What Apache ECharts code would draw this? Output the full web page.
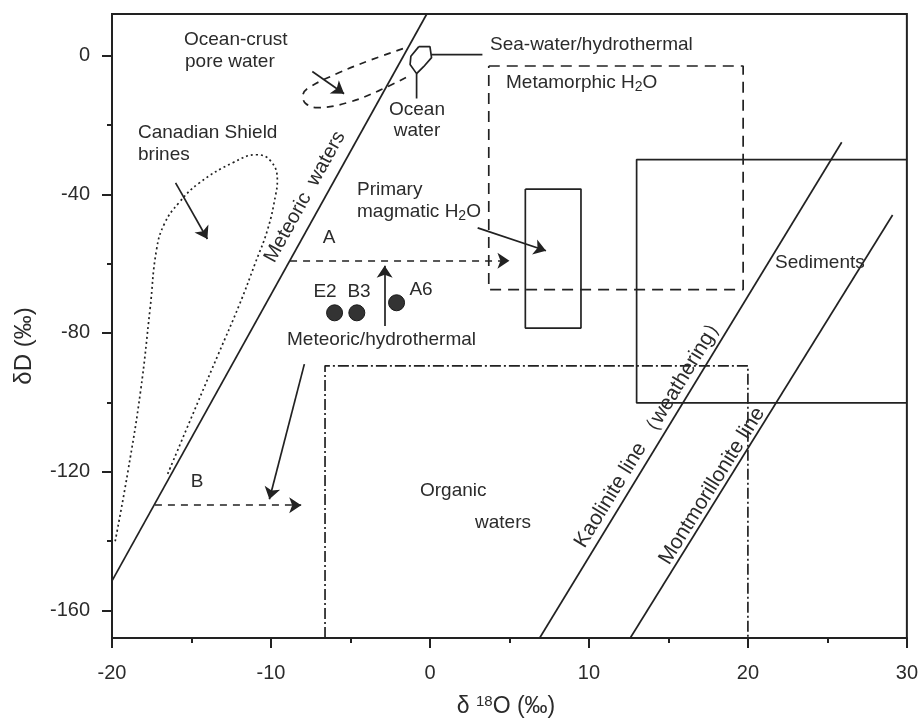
<!DOCTYPE html>
<html><head><meta charset="utf-8">
<script src="https://cdn.jsdelivr.net/npm/echarts@6/dist/echarts.min.js"></script>
<style>html,body{margin:0;padding:0;background:#fff}#c{width:921px;height:720px}</style>
</head><body><div id="c"></div>
<script>
// ---- data (δ18O, δD) ----
const yMajorTicks = [-160, -120, -80, -40, 0];
const yMinorTicks = [-140, -100, -60, -20];
const sampleNames = ['E2', 'B3', 'A6'];
const sampleD18O = [-6.0, -4.6, -2.1];
const sampleDD = [-74.2, -74.2, -71.3];

const meteoricWaterLine = [[-20, -151.5], [-0.2, 12]];
const kaoliniteLine = [[6.9, -168], [25.9, -25]];
const montmorilloniteLine = [[12.6, -168], [29.1, -46]];
const sedimentsField = [[30, -30], [13, -30], [13, -100.2], [30, -100.2]];
const metamorphicField = [[3.7, -3], [19.7, -3], [19.7, -67.5], [3.7, -67.5], [3.7, -3]];
const magmaticField = [[6, -38.5], [9.5, -38.5], [9.5, -78.6], [6, -78.6], [6, -38.5]];
const organicField = [[-6.6, -168], [-6.6, -89.5], [20, -89.5], [20, -168]];
const oceanCrustField = [[-1.7, 2.0], [-3.8, -1.4], [-5.7, -4.9], [-7.7, -9.5], [-8.0, -11.8], [-7.8, -13.9],
  [-7.1, -15.0], [-5.2, -13.6], [-3.2, -10.1], [-1.3, -5.8]];
const canadianShieldField = [[-19.8, -140.1], [-19.0, -120], [-18.2, -96.7], [-17.6, -72.8], [-17.2, -56],
  [-16.7, -48.5], [-15.8, -42.5], [-14.5, -36.7], [-12.4, -30.9], [-10.9, -28.6], [-10.0, -30.5], [-9.6, -36],
  [-9.7, -40], [-10.2, -50], [-11.0, -60], [-12.0, -72], [-13.3, -86], [-14.6, -100], [-16.5, -120.7]];
const oceanWaterField = [[-0.7, 2.6], [0.0, 2.6], [0.1, -0.6], [-0.4, -3.2], [-0.84, -5.2], [-1.25, -2.6],
  [-1.2, -0.2], [-0.7, 2.6]];
const seaWaterLeader = [[0.1, 0.3], [3.3, 0.3]];
const oceanLeader = [[-0.84, -5.2], [-0.84, -12.4]];

const arrowA = [[-8.8, -59.2], [5.0, -59.2]];
const arrowB = [[-17.3, -129.7], [-8.1, -129.7]];
const arrowUp = [[-2.85, -78], [-2.85, -60.6]];
const arrowDown = [[-7.9, -89], [-10.1, -128]];
const arrowMagmatic = [[3.0, -49.7], [7.3, -56.3]];
const arrowShield = [[-16.0, -36.7], [-14.0, -52.9]];
const arrowCrust = [[-7.4, -4.6], [-5.4, -11.0]];

// ---- styling ----
const INK = '#222';
const TXT = '#2b2b2b';
const FF = '"Liberation Sans", Arial, sans-serif';
const LW = 1.7;
const FS = 19;

function lineSeries(data, type, smooth) {
  return {
    type: 'line', data: data, symbol: 'none', showSymbol: false, smooth: smooth || false,
    silent: true, animation: false,
    lineStyle: { color: INK, width: LW, type: type || 'solid' }
  };
}
function arrowSeries(list, type) {
  return {
    type: 'lines', coordinateSystem: 'cartesian2d', silent: true, animation: false,
    symbol: ['none', 'arrow'], symbolSize: 12,
    lineStyle: { color: INK, width: LW, type: type || 'solid', opacity: 1 },
    data: list.map(c => ({ coords: c }))
  };
}
function txt(text, x, y, o) {
  o = o || {};
  return {
    type: 'text', x: x, y: y, rotation: o.rot || 0, silent: true, z: 100,
    style: {
      text: text, x: 0, y: 0, fill: TXT, fontFamily: FF, fontSize: o.size || FS,
      align: o.align || 'left', verticalAlign: 'middle', rich: o.rich
    }
  };
}
const subRich = {
  n: { fontSize: FS, fontFamily: FF, lineHeight: 23, fill: TXT },
  s: { fontSize: 14, fontFamily: FF, lineHeight: 10, verticalAlign: 'bottom', fill: TXT }
};

const chart = echarts.init(document.getElementById('c'), null, { renderer: 'canvas' });
chart.setOption({
  animation: false,
  backgroundColor: '#fff',
  grid: { left: 112, right: 13, top: 14, bottom: 82, show: true, borderColor: INK, borderWidth: 2 },
  xAxis: {
    type: 'value', min: -20, max: 30, interval: 10,
    axisLine: { show: true, onZero: false, lineStyle: { color: INK, width: 2 } },
    axisTick: { show: true, length: 10, lineStyle: { color: INK, width: 2 } },
    minorTick: { show: true, splitNumber: 2, length: 5, lineStyle: { color: INK, width: 2 } },
    axisLabel: { fontSize: 20, color: TXT, fontFamily: FF, margin: 25 },
    splitLine: { show: false }, minorSplitLine: { show: false }
  },
  yAxis: [{
    type: 'value', min: -168, max: 12,
    axisLine: { show: true, onZero: false, lineStyle: { color: INK, width: 2 } },
    axisTick: { show: true, length: 10, customValues: yMajorTicks, lineStyle: { color: INK, width: 2 } },
    axisLabel: { customValues: yMajorTicks, fontSize: 20, color: TXT, fontFamily: FF, margin: 22 },
    splitLine: { show: false }
  }, {
    type: 'value', min: -168, max: 12, position: 'left',
    axisLine: { show: false, onZero: false },
    axisTick: { show: true, length: 5, customValues: yMinorTicks, lineStyle: { color: INK, width: 2 } },
    axisLabel: { show: false }, splitLine: { show: false }
  }],
  series: [
    lineSeries(meteoricWaterLine),
    lineSeries(kaoliniteLine),
    lineSeries(montmorilloniteLine),
    lineSeries(sedimentsField),
    lineSeries(magmaticField),
    lineSeries(metamorphicField, [11, 7]),
    lineSeries(organicField, [11, 3, 2, 3]),
    lineSeries(oceanCrustField, [7, 6], 0.4),
    lineSeries(canadianShieldField, [2, 3], 0.45),
    lineSeries(oceanWaterField),
    lineSeries(seaWaterLeader),
    lineSeries(oceanLeader),
    arrowSeries([arrowA, arrowB], [7, 6]),
    arrowSeries([arrowUp, arrowDown, arrowMagmatic, arrowShield, arrowCrust]),
    {
      type: 'scatter', silent: true, animation: false, symbolSize: 16,
      itemStyle: { color: '#333', opacity: 1, borderColor: '#1a1a1a', borderWidth: 1 },
      data: sampleD18O.map((v, i) => [v, sampleDD[i], sampleNames[i]])
    }
  ],
  graphic: [
    txt('Ocean-crust', 184, 40),
    txt('pore water', 185, 62),
    txt('Canadian Shield', 138, 133),
    txt('brines', 138, 155),
    txt('Ocean', 417, 110, { align: 'center' }),
    txt('water', 417, 131, { align: 'center' }),
    txt('Sea-water/hydrothermal', 490, 45),
    txt('{n|Metamorphic H}{s|2}{n|O}', 506, 83, { rich: subRich }),
    txt('Primary', 357, 190),
    txt('{n|magmatic H}{s|2}{n|O}', 357, 212, { rich: subRich }),
    txt('A', 329, 238, { align: 'center' }),
    txt('B', 197, 482, { align: 'center' }),
    txt(sampleNames[0], 325, 292, { align: 'center' }),
    txt(sampleNames[1], 359, 292, { align: 'center' }),
    txt(sampleNames[2], 421, 290, { align: 'center' }),
    txt('Meteoric/hydrothermal', 287, 340),
    txt('Sediments', 775, 263),
    txt('Organic', 420, 491),
    txt('waters', 475, 523),
    txt('Meteoric  waters', 305, 197, { align: 'center', size: 20, rot: 61 * Math.PI / 180 }),
    txt('Kaolinite line （weathering）', 650, 431, { align: 'center', size: 21, rot: 58.5 * Math.PI / 180 }),
    txt('Montmorillonite line', 712, 486, { align: 'center', size: 21, rot: 58 * Math.PI / 180 }),
    txt('δD (‰)', 24, 346, { align: 'center', size: 24, rot: Math.PI / 2 }),
    txt('{n|δ }{u|18}{n|O (‰)}', 506, 707, {
      align: 'center', rich: {
        n: { fontSize: 23, fontFamily: FF, lineHeight: 26, fill: TXT },
        u: { fontSize: 15, fontFamily: FF, lineHeight: 15, verticalAlign: 'top', fill: TXT }
      }
    })
  ]
});
</script></body></html>
